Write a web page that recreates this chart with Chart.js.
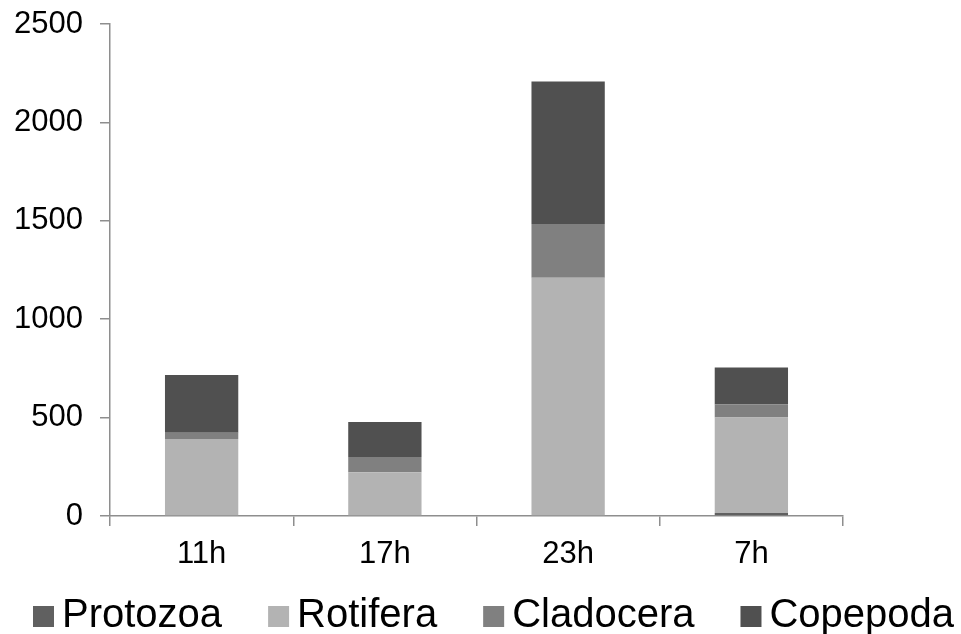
<!DOCTYPE html>
<html>
<head>
<meta charset="utf-8">
<title>Zooplankton by hour</title>
<script src="https://cdn.jsdelivr.net/npm/chart.js@4/dist/chart.umd.min.js"></script>
<style>
  html, body { margin: 0; padding: 0; background: #ffffff; }
  canvas { display: block; }
</style>
</head>
<body>
<canvas id="chart" width="961" height="634"></canvas>
<script>
// Sampling hours
const categories = ['11h', '17h', '23h', '7h'];

// Density per group, stacked from bottom to top
const protozoa  = [0, 0, 0, 15];
const rotifera  = [391, 222, 1211, 486];
const cladocera = [32, 78, 273, 66];
const copepoda  = [293, 178, 724, 188];

// Value axis
const yTicks = [0, 500, 1000, 1500, 2000, 2500];

const FONT = "'Liberation Sans', Arial, Helvetica, sans-serif";
const AXIS = '#8e8e8e';

// Legend row drawn under the plot: square key, then the label
const legendRow = {
  id: 'legendRow',
  afterDraw(chart) {
    const ctx = chart.ctx;
    ctx.save();
    ctx.font = '40px ' + FONT;
    ctx.textAlign = 'left';
    ctx.textBaseline = 'alphabetic';
    let x = 33;
    chart.data.datasets.forEach(ds => {
      ctx.fillStyle = ds.backgroundColor;
      ctx.fillRect(x, 606, 21, 21);
      ctx.fillStyle = '#000000';
      ctx.fillText(ds.label, x + 29, 627);
      x += 29 + ctx.measureText(ds.label).width + 46;
    });
    ctx.restore();
  }
};

new Chart(document.getElementById('chart'), {
  type: 'bar',
  data: {
    labels: categories,
    datasets: [
      { label: 'Protozoa',  data: protozoa,  backgroundColor: '#606060' },
      { label: 'Rotifera',  data: rotifera,  backgroundColor: '#b3b3b3' },
      { label: 'Cladocera', data: cladocera, backgroundColor: '#808080' },
      { label: 'Copepoda',  data: copepoda,  backgroundColor: '#505050' }
    ]
  },
  options: {
    responsive: false,
    animation: false,
    devicePixelRatio: 1,
    layout: { padding: { left: 0, right: 118, top: 24, bottom: 60 } },
    datasets: {
      bar: { barPercentage: 0.4, categoryPercentage: 1.0, borderWidth: 0 }
    },
    plugins: {
      legend: { display: false },
      tooltip: { enabled: false }
    },
    scales: {
      x: {
        stacked: true,
        afterFit(scale) {
          scale.height = 58;
          scale.paddingLeft = 0;
          scale.paddingRight = 0;
        },
        border: { display: true, color: AXIS, width: 1.5 },
        grid: {
          offset: true,
          drawOnChartArea: false,
          drawTicks: true,
          tickLength: 10,
          color: AXIS,
          lineWidth: 1.5
        },
        ticks: {
          color: '#000000',
          padding: 10,
          font: { family: FONT, size: 31 }
        }
      },
      y: {
        stacked: true,
        min: 0,
        max: 2500,
        afterFit(scale) {
          scale.width = 110;
          scale.paddingTop = 0;
          scale.paddingBottom = 0;
        },
        afterBuildTicks(scale) { scale.ticks = yTicks.map(v => ({ value: v })); },
        border: { display: true, color: AXIS, width: 1.5 },
        grid: {
          drawOnChartArea: false,
          drawTicks: true,
          tickLength: 10,
          color: AXIS,
          lineWidth: 1.5
        },
        ticks: {
          color: '#000000',
          padding: 17,
          font: { family: FONT, size: 31 },
          callback: (value) => String(value)
        }
      }
    }
  },
  plugins: [legendRow]
});
</script>
</body>
</html>
